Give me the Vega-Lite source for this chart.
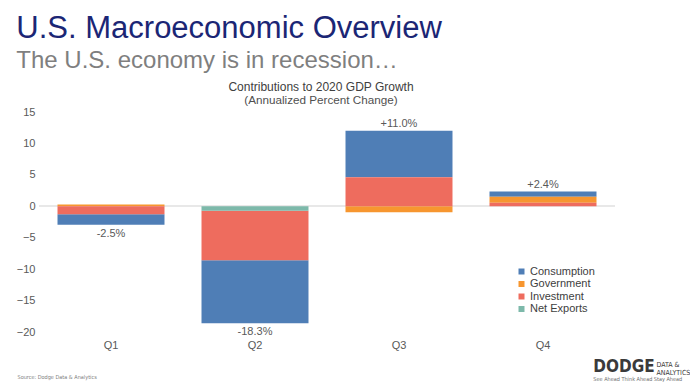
{
  "$schema": "https://vega.github.io/schema/vega-lite/v6.json",
  "padding": {"left": 16, "top": 13, "right": 0, "bottom": 0},
  "background": "white",
  "config": {
    "font": "Liberation Sans",
    "view": {"stroke": null},
    "concat": {"spacing": 0},
    "axis": {"labelOverlap": false},
    "axisY": {"labelOverlap": false, "labelBound": false},
    "axisQuantitative": {"labelOverlap": false, "tickCount": 8}
  },
  "datasets": {
    "contrib": [
      {"quarter": "Q1", "component": "Consumption", "value": -1.7},
      {"quarter": "Q1", "component": "Government", "value": 0.3},
      {"quarter": "Q1", "component": "Investment", "value": -1.25},
      {"quarter": "Q1", "component": "Net Exports", "value": 0.0},
      {"quarter": "Q2", "component": "Consumption", "value": -10.0},
      {"quarter": "Q2", "component": "Government", "value": 0.0},
      {"quarter": "Q2", "component": "Investment", "value": -7.9},
      {"quarter": "Q2", "component": "Net Exports", "value": -0.7},
      {"quarter": "Q3", "component": "Consumption", "value": 7.4},
      {"quarter": "Q3", "component": "Government", "value": -0.95},
      {"quarter": "Q3", "component": "Investment", "value": 4.6},
      {"quarter": "Q3", "component": "Net Exports", "value": 0.0},
      {"quarter": "Q4", "component": "Consumption", "value": 0.85},
      {"quarter": "Q4", "component": "Government", "value": 0.95},
      {"quarter": "Q4", "component": "Investment", "value": 0.55},
      {"quarter": "Q4", "component": "Net Exports", "value": 0.0}
    ],
    "totals": [
      {"quarter": "Q1", "total": -2.5, "label": "-2.5%"},
      {"quarter": "Q2", "total": -18.3, "label": "-18.3%"},
      {"quarter": "Q3", "total": 11.0, "label": "+11.0%"},
      {"quarter": "Q4", "total": 2.4, "label": "+2.4%"}
    ]
  },
  "title": {
    "text": "U.S. Macroeconomic Overview",
    "subtitle": "The U.S. economy is in recession…",
    "anchor": "start",
    "frame": "bounds",
    "font": "Liberation Sans",
    "fontSize": 31,
    "fontWeight": "normal",
    "color": "#1B2675",
    "subtitleFont": "Liberation Sans",
    "subtitleFontSize": 24,
    "subtitleColor": "#7F7F7F",
    "subtitlePadding": 4,
    "offset": 7
  },
  "vconcat": [
    {
      "title": {
        "text": "DODGE",
        "subtitle": "See Ahead   Think Ahead   Stay Ahead",
        "orient": "bottom",
        "anchor": "start",
        "frame": "bounds",
        "dx": 577,
        "offset": -21,
        "font": "DejaVu Sans Condensed, Liberation Sans",
        "fontSize": 17,
        "fontWeight": "bold",
        "color": "#3A3A3A",
        "subtitleFont": "DejaVu Sans Condensed, Liberation Sans",
        "subtitleFontSize": 5.5,
        "subtitleColor": "#6E6E6E",
        "subtitlePadding": 1
      },
      "vconcat": [
        {
          "width": 576,
          "height": 220,
          "title": {
            "text": "Contributions to 2020 GDP Growth",
            "subtitle": "(Annualized Percent Change)",
            "anchor": "middle",
            "frame": "group",
            "dx": -6,
            "font": "Liberation Sans",
            "fontSize": 12,
            "fontWeight": "normal",
            "color": "#404040",
            "subtitleFont": "Liberation Sans",
            "subtitleFontSize": 11.7,
            "subtitleColor": "#505050",
            "subtitlePadding": 1,
            "offset": -2
          },
          "data": {"name": "contrib"},
          "layer": [
            {
              "mark": {"type": "rule", "color": "#E8E8E8", "strokeWidth": 1},
              "encoding": {
                "y": {
                  "datum": 0,
                  "type": "quantitative",
                  "scale": {"domain": [-20, 15], "nice": false},
                  "axis": {
                    "values": [-20, -15, -10, -5, 0, 5, 10, 15],
                    "labelOverlap": false,
                    "grid": false,
                    "ticks": false,
                    "domain": false,
                    "labelFontSize": 11,
                    "labelColor": "#595959",
                    "labelPadding": 4,
                    "title": ["DATA &", "ANALYTICS"],
                    "titleAngle": 0,
                    "titleAlign": "left",
                    "titleBaseline": "alphabetic",
                    "titleFont": "DejaVu Sans Condensed, Liberation Sans",
                    "titleFontSize": 7,
                    "titleFontWeight": "normal",
                    "titleColor": "#3A3A3A",
                    "titleLineHeight": 8,
                    "titleX": 617,
                    "titleY": 254
                  }
                }
              }
            },
            {
              "mark": {"type": "bar"},
              "encoding": {
                "x": {
                  "field": "quarter",
                  "type": "nominal",
                  "scale": {"paddingInner": 0.257, "paddingOuter": 0.1285},
                  "axis": {
                    "labelAngle": 0,
                    "labelFontSize": 11,
                    "labelColor": "#595959",
                    "labelPadding": 7,
                    "ticks": false,
                    "domain": false,
                    "title": "Source: Dodge Data & Analytics",
                    "titleFont": "DejaVu Sans Condensed, Liberation Sans",
                    "titleFontSize": 5.5,
                    "titleFontWeight": "normal",
                    "titleColor": "#808080",
                    "titleAnchor": "start",
                    "titleAlign": "left",
                    "titleBaseline": "middle",
                    "titleX": -22,
                    "titleY": 44
                  }
                },
                "y": {
                  "field": "value",
                  "type": "quantitative",
                  "stack": "zero",
                  "scale": {"domain": [-20, 15], "nice": false},
                  "axis": {
                    "values": [-20, -15, -10, -5, 0, 5, 10, 15],
                    "labelOverlap": false,
                    "grid": false,
                    "ticks": false,
                    "domain": false,
                    "labelFontSize": 11,
                    "labelColor": "#595959",
                    "labelPadding": 4,
                    "title": ["DATA &", "ANALYTICS"],
                    "titleAngle": 0,
                    "titleAlign": "left",
                    "titleBaseline": "alphabetic",
                    "titleFont": "DejaVu Sans Condensed, Liberation Sans",
                    "titleFontSize": 7,
                    "titleFontWeight": "normal",
                    "titleColor": "#3A3A3A",
                    "titleLineHeight": 8,
                    "titleX": 617,
                    "titleY": 254
                  }
                },
                "color": {
                  "field": "component",
                  "type": "nominal",
                  "scale": {
                    "domain": ["Consumption", "Government", "Investment", "Net Exports"],
                    "range": ["#4F7EB6", "#F7962F", "#EE6C5E", "#7DB9AA"]
                  },
                  "legend": {
                    "title": null,
                    "orient": "none",
                    "legendX": 477,
                    "legendY": 154,
                    "padding": 0,
                    "symbolType": "square",
                    "symbolSize": 36,
                    "symbolStrokeWidth": 0,
                    "labelFontSize": 11,
                    "labelColor": "#404040",
                    "labelOffset": 3,
                    "rowPadding": 0.5
                  }
                },
                "order": {"field": "component", "sort": "descending"}
              }
            },
            {
              "transform": [
                {"lookup": "quarter", "from": {"data": {"name": "totals"}, "key": "quarter", "fields": ["total", "label"]}},
                {"filter": {"and": [{"field": "total", "lt": 0}, {"field": "value", "lt": 0}]}},
                {"aggregate": [{"op": "sum", "field": "value", "as": "ext"}], "groupby": ["quarter", "label"]}
              ],
              "mark": {"type": "text", "baseline": "top", "dy": 3, "fontSize": 11, "color": "#595959"},
              "encoding": {
                "x": {"field": "quarter", "type": "nominal", "title": "Source: Dodge Data & Analytics"},
                "y": {"field": "ext", "type": "quantitative", "title": ["DATA &", "ANALYTICS"]},
                "text": {"field": "label"}
              }
            },
            {
              "transform": [
                {"lookup": "quarter", "from": {"data": {"name": "totals"}, "key": "quarter", "fields": ["total", "label"]}},
                {"filter": {"and": [{"field": "total", "gt": 0}, {"field": "value", "gt": 0}]}},
                {"aggregate": [{"op": "sum", "field": "value", "as": "ext"}], "groupby": ["quarter", "label"]}
              ],
              "mark": {"type": "text", "baseline": "bottom", "dy": -2, "fontSize": 11, "color": "#595959"},
              "encoding": {
                "x": {"field": "quarter", "type": "nominal", "title": "Source: Dodge Data & Analytics"},
                "y": {"field": "ext", "type": "quantitative", "title": ["DATA &", "ANALYTICS"]},
                "text": {"field": "label"}
              }
            }
          ]
        }
      ]
    }
  ]
}
